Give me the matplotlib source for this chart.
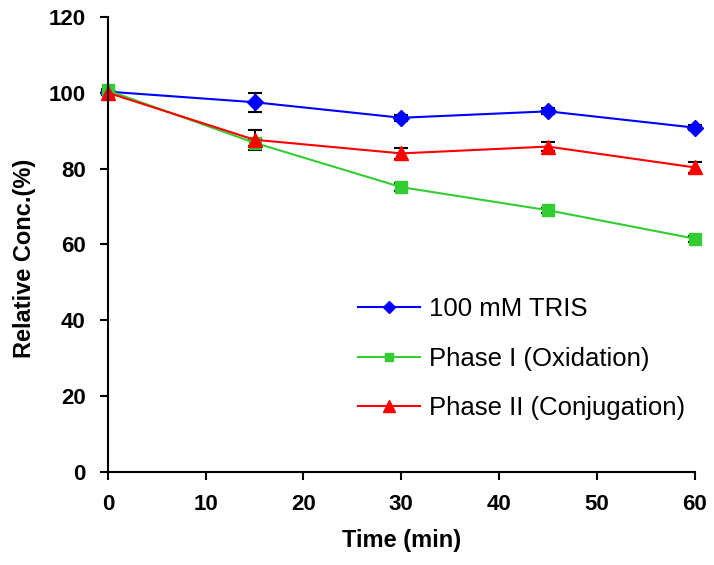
import matplotlib
matplotlib.use("Agg")
import matplotlib.pyplot as plt

plt.rcParams['font.family'] = ['Liberation Sans', 'DejaVu Sans']

# time points (min)
time = [0, 15, 30, 45, 60]

# relative concentration (%) and error bars
tris = [100.3, 97.5, 93.4, 95.1, 90.8]
tris_err = [0.5, 2.5, 0.8, 0.8, 0.6]
phase1 = [100.6, 86.8, 75.1, 69.0, 61.5]
phase1_err = [0.5, 0.8, 1.0, 0.6, 0.8]
phase2 = [100.0, 87.6, 84.0, 85.8, 80.3]
phase2_err = [0.5, 2.6, 1.5, 1.2, 1.5]

labels = ['100 mM TRIS', 'Phase I (Oxidation)', 'Phase II (Conjugation)']

fig = plt.figure(figsize=(7.14, 5.65), dpi=100)
ax = fig.add_axes([0.151, 0.165, 0.822, 0.805])

ax.errorbar(time, tris, yerr=tris_err, color='#0000FF', marker='D', markersize=8,
            lw=1.5, ecolor='black', elinewidth=1.5, capsize=5, capthick=1.5, label=labels[0])
ax.errorbar(time, phase1, yerr=phase1_err, color='#33CC33', marker='s', markersize=8,
            lw=1.5, ecolor='black', elinewidth=1.5, capsize=5, capthick=1.5, label=labels[1])
ax.errorbar(time, phase2, yerr=phase2_err, color='#FF0000', marker='^', markersize=10,
            lw=1.5, ecolor='black', elinewidth=1.5, capsize=5, capthick=1.5, label=labels[2])

ax.set_xlim(0, 60)
ax.set_ylim(0, 120)
ax.set_xticks(range(0, 61, 10))
ax.set_yticks(range(0, 121, 20))

for s in ['top', 'right']:
    ax.spines[s].set_visible(False)
for s in ['left', 'bottom']:
    ax.spines[s].set_linewidth(1.5)

ax.tick_params(direction='out', length=6, width=1.5, labelsize=16, pad=10)
for t in ax.get_xticklabels() + ax.get_yticklabels():
    t.set_fontweight('bold')

ax.set_xlabel('Time (min)', fontsize=17, fontweight='bold', labelpad=10)
ax.set_ylabel('Relative Conc.(%)', fontsize=17, fontweight='bold', labelpad=9)
ax.yaxis.label.set_y(0.47)

handles, labs = ax.get_legend_handles_labels()
handles = [h[0] for h in handles]
leg = ax.legend(handles, labs, loc='upper left',
                bbox_to_anchor=(358 / 714, 1 - 297 / 565), bbox_transform=fig.transFigure,
                frameon=False, fontsize=18.5, handlelength=2.4, labelspacing=1.0,
                handletextpad=0.35, markerscale=0.8, borderpad=0, borderaxespad=0)

for line in ax.lines:
    line.set_clip_on(False)

fig.savefig('out.png', dpi=100)
